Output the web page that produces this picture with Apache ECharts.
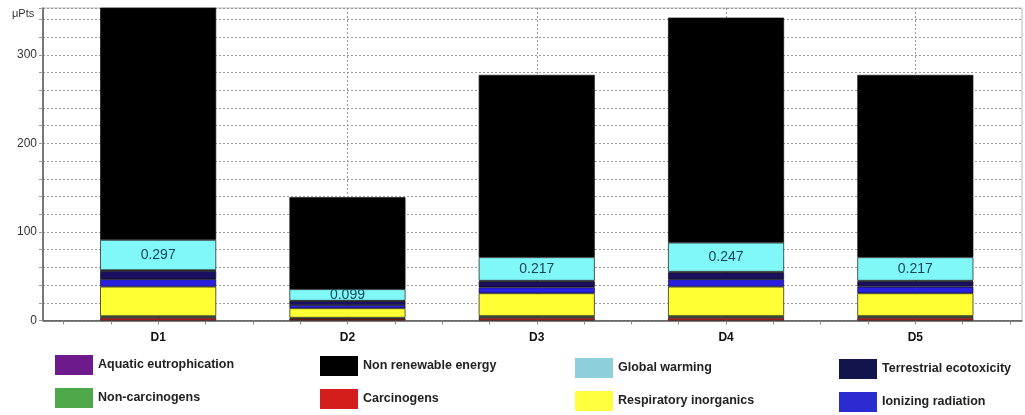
<!DOCTYPE html>
<html>
<head>
<meta charset="utf-8">
<script src="https://cdn.jsdelivr.net/npm/echarts@6/dist/echarts.min.js"></script>
<style>
html,body{margin:0;padding:0;background:#fff;}
#chart{width:1025px;height:415px;}
</style>
</head>
<body>
<div id="chart"></div>
<script>
// ---- data ----
const categories = ['D1', 'D2', 'D3', 'D4', 'D5'];
const carcinogens = [3, 2, 3, 3, 3];
const nonCarcinogens = [2, 1.2, 2.1, 2.1, 2.1];
const respiratoryInorganics = [33.2, 10.6, 25.6, 33.1, 25.6];
const ionizingRadiation = [8.4, 3.7, 6.8, 8.4, 7.5];
const terrestrialEcotoxicity = [9.4, 4.4, 6.7, 7.5, 6];
const aquaticEutrophication = [1, 0.5, 0.8, 1, 0.8];
const globalWarming = [34, 12.9, 26.4, 32.8, 26.4];
const nonRenewableEnergy = [265, 103.9, 206, 254.2, 206];
const globalWarmingLabels = ['0.297', '0.099', '0.217', '0.247', '0.217'];
const yTickLabels = [0, 100, 200, 300];
const yMax = 353;

const FONT = "'Liberation Sans', Arial, sans-serif";

const seriesDefs = [
  {name: 'Carcinogens', data: carcinogens, color: '#d01c1c', legend: '#d41e1e'},
  {name: 'Non-carcinogens', data: nonCarcinogens, color: '#4ca64c', legend: '#4ea84a'},
  {name: 'Respiratory inorganics', data: respiratoryInorganics, color: '#ffff33', legend: '#ffff40'},
  {name: 'Ionizing radiation', data: ionizingRadiation, color: '#2a20e0', legend: '#2b2bd0'},
  {name: 'Terrestrial ecotoxicity', data: terrestrialEcotoxicity, color: '#1a0f60', legend: '#14144c'},
  {name: 'Aquatic eutrophication', data: aquaticEutrophication, color: '#6a1b8c', legend: '#6c1a8c'},
  {name: 'Global warming', data: globalWarming, color: '#80f8f8', legend: '#8dd0dc'},
  {name: 'Non renewable energy', data: nonRenewableEnergy, color: '#000000', legend: '#000000'}
];
const legendColor = {};
seriesDefs.forEach(s => legendColor[s.name] = s.legend);

const series = seriesDefs.map(s => {
  const o = {
    name: s.name,
    type: 'bar',
    stack: 'total',
    xAxisIndex: 1,
    yAxisIndex: 1,
    barWidth: 116,
    data: s.data,
    itemStyle: {color: s.color, borderColor: '#111', borderWidth: 0.7},
    emphasis: {disabled: true},
    z: 3
  };
  if (s.name === 'Global warming') {
    o.label = {
      show: true,
      position: 'inside',
      formatter: p => globalWarmingLabels[p.dataIndex],
      color: '#17465a',
      fontSize: 14,
      fontFamily: FONT
    };
  }
  return o;
});

// hidden helper category axis for vertical grid lines at category centres
const halfCats = [];
categories.forEach(c => { halfCats.push(''); halfCats.push(c); });
halfCats.push('');

function legendBlock(left, top, names) {
  return {
    orient: 'vertical',
    left: left,
    top: top,
    padding: 0,
    itemWidth: 38,
    itemHeight: 20,
    itemGap: 13,
    icon: 'rect',
    selectedMode: false,
    itemStyle: {borderWidth: 0},
    textStyle: {fontFamily: FONT, fontSize: 12.5, fontWeight: 'bold', color: '#222'},
    data: names.map(n => ({name: n, itemStyle: {color: legendColor[n], borderWidth: 0}}))
  };
}

const option = {
  animation: false,
  backgroundColor: '#ffffff',
  grid: [
    {left: 43, right: 3, top: 8, bottom: 94.5, show: true, borderColor: '#bbbbbb', borderWidth: 1, backgroundColor: 'transparent'},
    {left: 63.5, right: 15, top: 8, bottom: 94.5}
  ],
  xAxis: [
    {gridIndex: 0, type: 'value', min: 0, max: 1, axisLabel: {show: false}, splitLine: {show: false}, axisTick: {show: false},
     axisLine: {show: true, lineStyle: {color: '#555', width: 1.5}}},
    {gridIndex: 1, type: 'category', data: categories, axisLine: {show: false}, axisTick: {show: false}, splitLine: {show: false},
     axisLabel: {fontFamily: FONT, fontSize: 12, fontWeight: 'bold', color: '#111', margin: 11}},
    {gridIndex: 1, type: 'category', data: halfCats, boundaryGap: false, position: 'bottom', axisLine: {show: false}, axisTick: {show: false},
     axisLabel: {show: false},
     splitLine: {show: true, interval: (i) => i % 2 === 1, lineStyle: {color: '#9a9a9a', type: [2, 2], width: 1}}},
    {gridIndex: 1, type: 'value', min: 0, max: 20, interval: 1, position: 'bottom', axisLine: {show: false},
     axisTick: {show: true, length: 4, lineStyle: {color: '#888'}}, axisLabel: {show: false}, splitLine: {show: false}}
  ],
  yAxis: [
    {gridIndex: 0, type: 'value', min: 0, max: yMax, interval: 20,
     axisLine: {show: true, lineStyle: {color: '#555', width: 1.5}},
     axisTick: {show: true, length: 4, lineStyle: {color: '#999'}},
     axisLabel: {fontFamily: FONT, fontSize: 12, color: '#333', margin: 6,
       formatter: v => (yTickLabels.indexOf(v) >= 0 ? String(v) : '')},
     splitLine: {show: true, lineStyle: {color: '#9a9a9a', type: [2, 2], width: 1}}},
    {gridIndex: 1, type: 'value', min: 0, max: yMax, show: false, splitLine: {show: false}}
  ],
  legend: [
    legendBlock(55, 355, ['Aquatic eutrophication', 'Non-carcinogens']),
    legendBlock(320, 356, ['Non renewable energy', 'Carcinogens']),
    legendBlock(575, 358, ['Global warming', 'Respiratory inorganics']),
    legendBlock(839, 359, ['Terrestrial ecotoxicity', 'Ionizing radiation'])
  ],
  graphic: [
    {type: 'text', left: 12, top: 8, style: {text: 'μPts', fontFamily: FONT, fontSize: 11, fill: '#333'}}
  ],
  series: series
};

const chart = echarts.init(document.getElementById('chart'), null, {renderer: 'canvas'});
chart.setOption(option);
</script>
</body>
</html>
